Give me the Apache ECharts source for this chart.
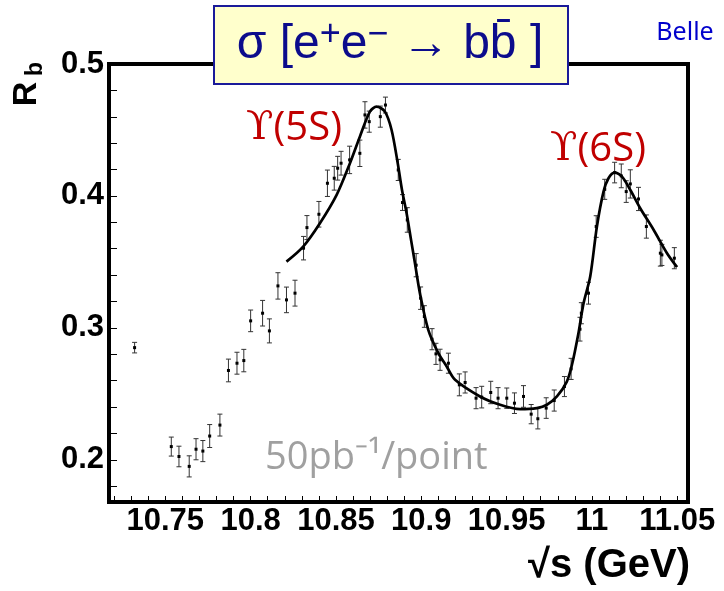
<!DOCTYPE html>
<html><head><meta charset="utf-8">
<script src="https://cdn.jsdelivr.net/npm/echarts@6/dist/echarts.min.js"></script>
<style>html,body{margin:0;padding:0;background:#fff}#c{width:724px;height:591px}</style>
</head><body><div id="c"></div>
<script>
// measured points: sqrt(s) [GeV], R_b, error
const energy = [10.732,10.7535,10.758,10.764,10.768,10.772,10.776,10.782,10.787,10.792,10.796,10.800,10.807,10.811,10.816,10.821,10.826,10.831,10.833,10.840,10.845,10.849,10.851,10.853,10.858,10.864,10.867,10.8695,10.876,10.879,10.8865,10.889,10.8918,10.897,10.8996,10.9018,10.9063,10.9086,10.911,10.9159,10.9223,10.9257,10.9321,10.9354,10.9407,10.945,10.9501,10.9546,10.9599,10.9644,10.9683,10.9732,10.9779,10.9839,10.9878,10.993,10.9938,10.998,11.0025,11.0075,11.0133,11.0172,11.0201,11.0225,11.0273,11.0319,11.0401,11.041,11.0483];
const rb = [0.285,0.210,0.2025,0.195,0.208,0.2066,0.218,0.2263,0.2677,0.2732,0.2752,0.3053,0.3111,0.2977,0.3318,0.3212,0.3263,0.3604,0.376,0.3861,0.4096,0.4134,0.421,0.4248,0.4273,0.4323,0.4614,0.4563,0.4601,0.4689,0.4197,0.395,0.3818,0.3475,0.3225,0.3086,0.2914,0.2803,0.2758,0.2732,0.2568,0.2586,0.2467,0.2475,0.251,0.2467,0.2467,0.2429,0.248,0.2346,0.2311,0.2392,0.2449,0.2555,0.2689,0.299,0.3111,0.3263,0.3768,0.405,0.4177,0.4152,0.4033,0.4091,0.3977,0.3768,0.3566,0.3553,0.3528];
const rbErr = [0.004,0.0072,0.0078,0.008,0.008,0.008,0.0087,0.0083,0.0086,0.0083,0.0085,0.0082,0.0097,0.0091,0.010,0.0097,0.0098,0.0089,0.0091,0.0097,0.010,0.009,0.009,0.009,0.0104,0.010,0.010,0.008,0.008,0.006,0.008,0.006,0.0093,0.0088,0.0085,0.0082,0.008,0.008,0.008,0.0076,0.0083,0.008,0.008,0.0082,0.0085,0.008,0.0077,0.0078,0.0082,0.0073,0.0077,0.0078,0.008,0.0076,0.008,0.009,0.008,0.0083,0.0082,0.0076,0.0078,0.009,0.0082,0.0107,0.0088,0.0088,0.0098,0.008,0.008];
// fit curve
const fitEnergy = [10.8210,10.8308,10.8406,10.8504,10.8582,10.8640,10.8699,10.8738,10.8787,10.8826,10.8862,10.8887,10.8914,10.8940,10.8963,10.8992,10.9041,10.9100,10.9149,10.9198,10.9344,10.9462,10.9579,10.9677,10.9736,10.9795,10.9853,10.9883,10.9921,10.9951,10.9990,11.0029,11.0068,11.0097,11.0133,11.0176,11.0225,11.0283,11.0362,11.0440,11.0499];
const fitRb = [0.3502,0.3616,0.3793,0.4008,0.4248,0.4449,0.4639,0.4677,0.4639,0.4500,0.4248,0.4045,0.3869,0.3667,0.3490,0.3263,0.2985,0.2808,0.2707,0.2606,0.2480,0.2417,0.2384,0.2392,0.2417,0.2480,0.2593,0.2720,0.2960,0.3187,0.3389,0.3767,0.4033,0.4134,0.4177,0.4146,0.4045,0.3907,0.3742,0.3566,0.3460];
const xTickLabels = [10.75,10.8,10.85,10.9,10.95,11,11.05];
const yTickLabels = [0.2,0.3,0.4,0.5];

const xMinor = []; for (let i = 72; i <= 105; i++) xMinor.push(Math.round(i) / 100 + 10);
const yMinor = []; for (let i = 9; i <= 25; i++) yMinor.push(Math.round(i * 2) / 100);

const pts = energy.map((e, i) => [e, rb[i], rbErr[i]]);
const fit = fitEnergy.map((e, i) => [e, fitRb[i]]);

const chart = echarts.init(document.getElementById('c'), null, {renderer: 'canvas'});
chart.setOption({
  animation: false,
  backgroundColor: '#fff',
  grid: {left: 109, right: 36, top: 64, bottom: 89, show: true, borderColor: '#000', borderWidth: 4, backgroundColor: 'transparent'},
  xAxis: {
    type: 'value', min: 10.717, max: 11.0563,
    axisLine: {show: false},
    splitLine: {show: false},
    axisTick: {show: true, inside: true, length: 6, customValues: xMinor, lineStyle: {color: '#000', width: 1}},
    axisLabel: {customValues: xTickLabels, formatter: v => String(Math.round(v * 100) / 100), fontFamily: 'Liberation Sans', fontWeight: 'bold', fontSize: 31, color: '#000', margin: 4}
  },
  yAxis: {
    type: 'value', min: 0.168, max: 0.5,
    axisLine: {show: false},
    splitLine: {show: false},
    axisTick: {show: true, inside: true, length: 8, customValues: yMinor, lineStyle: {color: '#000', width: 1}},
    axisLabel: {customValues: yTickLabels, formatter: v => String(Math.round(v * 10) / 10), fontFamily: 'Liberation Sans', fontWeight: 'bold', fontSize: 31, color: '#000', margin: 5}
  },
  series: [
    {
      type: 'custom', data: pts, z: 2,
      renderItem: function (params, api) {
        const x = api.value(0), y = api.value(1), e = api.value(2);
        const p = api.coord([x, y]);
        const hi = api.coord([x, y + e]);
        const lo = api.coord([x, y - e]);
        const c = '#333';
        return {type: 'group', children: [
          {type: 'line', shape: {x1: p[0], y1: hi[1], x2: p[0], y2: lo[1]}, style: {stroke: c, lineWidth: 1}},
          {type: 'line', shape: {x1: p[0] - 2.5, y1: hi[1], x2: p[0] + 2.5, y2: hi[1]}, style: {stroke: c, lineWidth: 1}},
          {type: 'line', shape: {x1: p[0] - 2.5, y1: lo[1], x2: p[0] + 2.5, y2: lo[1]}, style: {stroke: c, lineWidth: 1}},
          {type: 'rect', shape: {x: p[0] - 1.5, y: p[1] - 1.5, width: 3, height: 3}, style: {fill: '#000'}}
        ]};
      }
    },
    {
      type: 'line', data: fit, z: 3, smooth: 0.3, showSymbol: false,
      lineStyle: {color: '#000', width: 2.7}
    }
  ],
  graphic: [
    {type: 'rect', left: 213, top: 5, shape: {width: 354, height: 78}, style: {fill: '#FFFFCC', stroke: '#1a1a9a', lineWidth: 2}, z: 100},
    {type: 'text', x: 390, y: 45, z: 101, style: {
      text: '{a|σ [e}{s|+}{a|e}{s|−}{a| → bb\u0304 ]}',
      align: 'center', verticalAlign: 'middle',
      rich: {
        a: {fontFamily: 'Liberation Sans', fontSize: 48, fill: '#0c0c8c', lineHeight: 56},
        s: {fontFamily: 'Liberation Sans', fontSize: 36, fill: '#0c0c8c', lineHeight: 34, verticalAlign: 'top'}
      }
    }},
    {type: 'text', x: 685, y: 33, z: 101, style: {text: 'Belle', fontFamily: 'Noto Sans', fontSize: 25, fill: '#0000cc', align: 'center', verticalAlign: 'middle'}},
    {type: 'text', x: 27, y: 94, rotation: Math.PI / 2, z: 101, style: {text: 'R', fontFamily: 'Liberation Sans', fontWeight: 'bold', fontSize: 34, fill: '#000', align: 'center', verticalAlign: 'middle'}},
    {type: 'text', x: 36, y: 69, rotation: Math.PI / 2, z: 101, style: {text: 'b', fontFamily: 'Liberation Sans', fontWeight: 'bold', fontSize: 23, fill: '#000', align: 'center', verticalAlign: 'middle'}},
    {type: 'text', x: 690, y: 566, z: 101, style: {text: '√s (GeV)', fontFamily: 'Liberation Sans', fontWeight: 'bold', fontSize: 40, fill: '#000', align: 'right', verticalAlign: 'middle'}},
    {type: 'text', x: 294, y: 129, z: 101, style: {
      text: '{u|ϒ}{t|(5S)}', align: 'center', verticalAlign: 'middle',
      rich: {u: {fontFamily: 'DejaVu Serif', fontSize: 40, fill: '#c00000'}, t: {fontFamily: 'Open Sans', fontSize: 40, fill: '#c00000'}}
    }},
    {type: 'text', x: 598, y: 150, z: 101, style: {
      text: '{u|ϒ}{t|(6S)}', align: 'center', verticalAlign: 'middle',
      rich: {u: {fontFamily: 'DejaVu Serif', fontSize: 40, fill: '#c00000'}, t: {fontFamily: 'Open Sans', fontSize: 40, fill: '#c00000'}}
    }},
    {type: 'text', x: 265, y: 458, z: 101, style: {text: '50pb⁻¹/point', fontFamily: 'Open Sans', fontSize: 38, fill: '#a0a0a0', align: 'left', verticalAlign: 'middle'}}
  ]
});
</script>
</body></html>
